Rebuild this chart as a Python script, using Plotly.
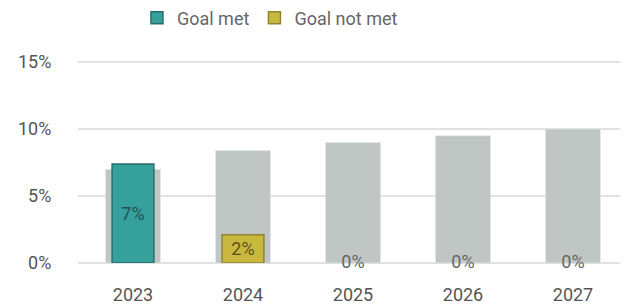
import plotly.graph_objects as go

years = ["2023", "2024", "2025", "2026", "2027"]
target = [7.0, 8.4, 9.0, 9.5, 10.0]
achieved = [7.4, 2.1, 0.0, 0.0, 0.0]
achieved_labels = ["7%", "2%", "0%", "0%", "0%"]
goal_met = [True, False, None, None, None]
y_ticks = [0, 5, 10, 15]
y_tick_labels = ["0%", "5%", "10%", "15%"]

TEAL = "#35a09c"
TEAL_EDGE = "#2a6e6c"
OLIVE = "#c9b83e"
OLIVE_EDGE = "#8f8530"
GRAY = "#bfc6c3"
FONT = "Roboto"

fig = go.Figure()

fig.add_trace(go.Bar(
    x=years, y=target, width=0.5, marker_color=GRAY,
    showlegend=False, hoverinfo="skip"
))

met_y = [v if m is True else None for v, m in zip(achieved, goal_met)]
met_t = [t if m is True else "" for t, m in zip(achieved_labels, goal_met)]
fig.add_trace(go.Bar(
    x=years, y=met_y, width=0.38, name="Goal met",
    marker=dict(color=TEAL, line=dict(color=TEAL_EDGE, width=1.5)),
    text=met_t, textposition="inside", insidetextanchor="middle",
    textfont=dict(color="#1f5553", size=18, family=FONT)
))

not_y = [v if m is False else None for v, m in zip(achieved, goal_met)]
not_t = [t if m is False else "" for t, m in zip(achieved_labels, goal_met)]
fig.add_trace(go.Bar(
    x=years, y=not_y, width=0.38, name="Goal not met",
    marker=dict(color=OLIVE, line=dict(color=OLIVE_EDGE, width=1.5)),
    text=not_t, textposition="inside", insidetextanchor="middle",
    textfont=dict(color="#5a5020", size=18, family=FONT)
))

zero_x = [y for y, m in zip(years, goal_met) if m is None]
zero_y = [v for v, m in zip(achieved, goal_met) if m is None]
zero_t = [t for t, m in zip(achieved_labels, goal_met) if m is None]
fig.add_trace(go.Scatter(
    x=zero_x, y=zero_y, mode="text", text=zero_t, cliponaxis=False,
    textposition="middle center", showlegend=False, hoverinfo="skip",
    textfont=dict(color="#666666", size=18, family=FONT)
))

fig.update_layout(
    width=620, height=299,
    margin=dict(l=70, r=0, t=53, b=44, autoexpand=False),
    paper_bgcolor="white", plot_bgcolor="white",
    barmode="overlay",
    font=dict(family=FONT, color="#555555", size=18),
    legend=dict(orientation="h", x=0.349, xanchor="center",
                yref="container", y=1 - 10 / 299, yanchor="middle",
                font=dict(size=18, color="#666666"), itemwidth=30, traceorder="normal"),
    xaxis=dict(showgrid=False, ticks="outside", tickcolor="rgba(0,0,0,0)", ticklen=15,
               tickfont=dict(size=18, color="#555555"), showline=False),
    yaxis=dict(range=[0, 15.08], tickvals=y_ticks, ticktext=y_tick_labels, showgrid=True,
               gridcolor="#e2e2e2", gridwidth=1.5, zeroline=True, zerolinecolor="#e2e2e2",
               zerolinewidth=1.5, ticks="outside", tickcolor="rgba(0,0,0,0)", ticklen=22,
               tickfont=dict(size=18, color="#555555")),
    showlegend=True,
)

fig.write_html("out.html")
